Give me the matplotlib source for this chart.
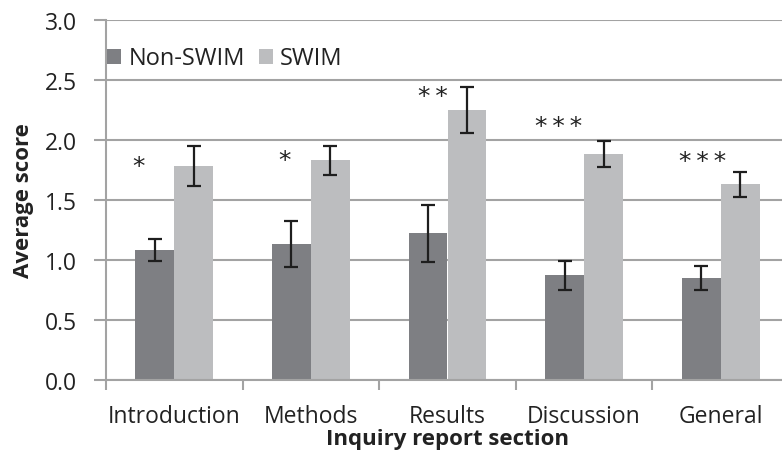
import numpy as np
import matplotlib
matplotlib.use("Agg")
import matplotlib.pyplot as plt

# ---------- data

sections = ['Introduction', 'Methods', 'Results', 'Discussion', 'General']
non_swim = [1.08, 1.13, 1.22, 0.87, 0.85]
non_swim_err = [0.09, 0.19, 0.24, 0.12, 0.10]
swim = [1.78, 1.83, 2.25, 1.88, 1.63]
swim_err = [0.165, 0.12, 0.19, 0.11, 0.105]
stars = ['*', '*', '**', '***', '***']
star_y = [1.78, 1.83, 2.36, 2.11, 1.82]
star_dx = [-0.26, -0.19, -0.11, -0.19, -0.13]
yticks = [0.0, 0.5, 1.0, 1.5, 2.0, 2.5, 3.0]

plt.rcParams['font.family'] = ['Open Sans', 'DejaVu Sans']

grid_c = '#a3a3a3'
dark = '#7e7f83'
light = '#bcbdbf'
txt = '#222222'

fig = plt.figure(figsize=(7.82, 4.52), dpi=100)
ax = fig.add_axes([106/782, (452-380.7)/452, 683/782, 360/452])

x = np.arange(len(sections))
w = 0.285
ax.bar(x - w/2, non_swim, w, color=dark, label='Non-SWIM', zorder=2)
ax.bar(x + w/2, swim, w, color=light, label='SWIM', zorder=2)
ax.errorbar(x - w/2, non_swim, yerr=non_swim_err, fmt='none', ecolor='#1e1e1e',
            elinewidth=1.6, capsize=5, capthick=1.6, zorder=3)
ax.errorbar(x + w/2, swim, yerr=swim_err, fmt='none', ecolor='#1e1e1e',
            elinewidth=1.6, capsize=5, capthick=1.6, zorder=3)

for i in range(len(sections)):
    ax.text(x[i] + star_dx[i], star_y[i], '\u2009'.join(stars[i]), ha='center',
            va='center', fontsize=18, family='DejaVu Sans', color=txt)

ax.set_xlim(-0.5, len(sections) - 0.5)
ax.set_ylim(0, 3.0)
ax.set_yticks(yticks)
ax.set_yticklabels(['%.1f' % v for v in yticks])
ax.yaxis.grid(True, color=grid_c, linewidth=1.5, zorder=0)
ax.set_axisbelow(True)

ax.set_xticks(x)
ax.set_xticklabels(sections)
ax.set_xticks(np.arange(len(sections) + 1) - 0.5, minor=True)
ax.tick_params(axis='x', which='major', length=0, pad=17.5, labelsize=16.5, colors=txt)
ax.tick_params(axis='x', which='minor', length=7, width=1.5, color=grid_c)
ax.tick_params(axis='y', length=9, width=1.5, color=grid_c, labelsize=16.5,
               labelcolor=txt, pad=12)

for s in ['top', 'right']:
    ax.spines[s].set_visible(False)
for s in ['left', 'bottom']:
    ax.spines[s].set_color(grid_c)
    ax.spines[s].set_linewidth(1.5)

ax.set_xlabel('Inquiry report section', fontsize=16, fontweight='bold', color=txt)
ax.xaxis.set_label_coords(0.5, -0.164)
ax.xaxis.label.set_va('center')
ax.set_ylabel('Average score', fontsize=16, fontweight='bold', color=txt,
              labelpad=8)

ax.legend(loc='upper left', bbox_to_anchor=(-0.012, 0.952), ncol=2, frameon=False,
          fontsize=17, handlelength=0.6, handleheight=0.6, handletextpad=0.3,
          columnspacing=0.6, borderaxespad=0, labelcolor=txt)

fig.savefig('out.png', dpi=100)
